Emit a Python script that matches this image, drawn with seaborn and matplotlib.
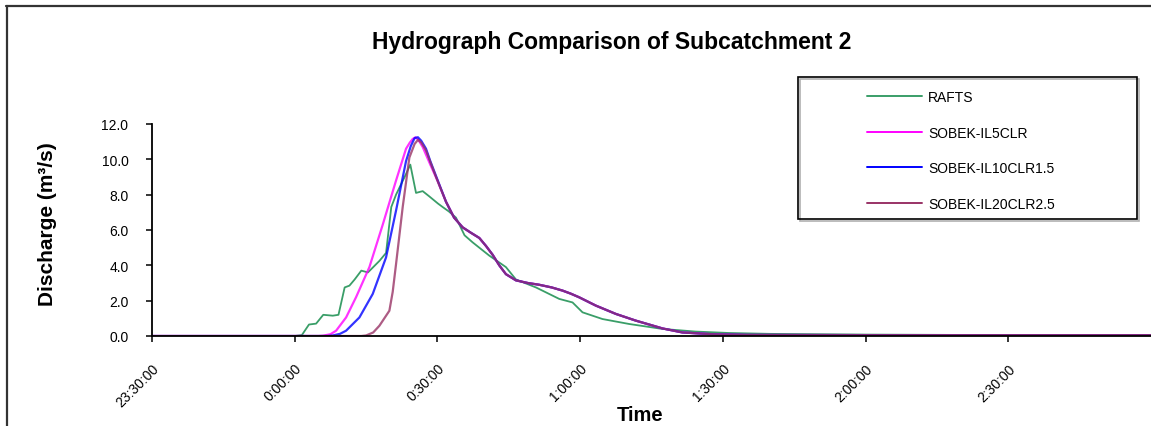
import numpy as np
import pandas as pd
import matplotlib
matplotlib.use("Agg")
import matplotlib.pyplot as plt
from matplotlib.lines import Line2D
from matplotlib.patches import Rectangle
import seaborn as sns

# ---------------- data (minutes relative to 0:00:00, discharge m3/s) ----------------
series_names = ["RAFTS", "SOBEK-IL5CLR", "SOBEK-IL10CLR1.5", "SOBEK-IL20CLR2.5"]

rafts_t = [-30, 0, 1.5, 3, 4.5, 6, 8, 9.2, 10.5, 11.5, 12.6, 14, 15.4, 17.8, 19.2, 20.3,
           21.3, 23.1, 24.3, 25.5, 26.9, 28.3, 30.1, 31.1, 32.4, 33.9, 35.7, 37.4, 40.9,
           44.4, 46.5, 50.7, 55.6, 58.4, 60.5, 64.7, 70.3, 77.3, 84.3, 91.3, 100, 120, 150, 180]
rafts_q = [0, 0, 0.05, 0.65, 0.7, 1.2, 1.15, 1.2, 2.75, 2.85, 3.2, 3.7, 3.6, 4.25, 4.7, 7.3,
           8.0, 9.0, 9.7, 8.1, 8.2, 7.9, 7.5, 7.3, 7.05, 6.7, 5.7, 5.3, 4.55,
           3.9, 3.2, 2.75, 2.1, 1.9, 1.34, 0.96, 0.68, 0.4, 0.25, 0.17, 0.12, 0.08, 0.05, 0.05]

il5_t = [-30, 5, 6, 7.5, 8.7, 10.8, 12.9, 15.7, 18.5, 21.3, 23.4, 24.2, 24.8, 25.4, 26.0,
         26.9, 28.5, 30, 31.8, 33.5, 35.3, 37, 38.8, 40.2, 41.6, 43, 44.4, 46.5, 49, 51.4,
         54, 56.3, 58, 59.8, 63.3, 67.5, 71.7, 77.3, 81.5, 87.8, 95, 120, 180]
il5_q = [0, 0, 0.02, 0.1, 0.3, 1.05, 2.2, 3.9, 6.3, 8.8, 10.6, 10.95, 11.15, 11.25, 11.1,
         10.7, 9.7, 8.8, 7.6, 6.7, 6.15, 5.85, 5.55, 5.1, 4.6, 4.0, 3.5, 3.15, 3.0, 2.9,
         2.75, 2.57, 2.4, 2.19, 1.72, 1.25, 0.87, 0.43, 0.2, 0.1, 0.06, 0.05, 0.05]

il10_t = [-30, 7, 8, 9.5, 10.8, 13.6, 16.4, 19.2, 21.3, 23.4, 24.4, 25.2, 25.9, 26.6,
          27.6, 28.5, 30, 31.8, 33.5, 35.3, 37, 38.8, 40.2, 41.6, 43, 44.4, 46.5, 49, 51.4,
          54, 56.3, 58, 59.8, 63.3, 67.5, 71.7, 77.3, 81.5, 87.8, 95, 120, 180]
il10_q = [0, 0, 0.03, 0.12, 0.3, 1.05, 2.38, 4.45, 7.1, 9.9, 10.75, 11.2, 11.25, 11.05,
          10.6, 9.9, 8.85, 7.6, 6.7, 6.15, 5.85, 5.55, 5.1, 4.6, 4.0, 3.5, 3.15, 3.0, 2.9,
          2.75, 2.57, 2.4, 2.19, 1.72, 1.25, 0.87, 0.43, 0.2, 0.1, 0.06, 0.05, 0.05]

il20_t = [-30, 14, 15, 16.5, 17.8, 19.9, 20.6, 21.3, 22.7, 24.1, 25.2, 25.9, 26.6,
          27.6, 28.5, 30, 31.8, 33.5, 35.3, 37, 38.8, 40.2, 41.6, 43, 44.4, 46.5, 49, 51.4,
          54, 56.3, 58, 59.8, 63.3, 67.5, 71.7, 77.3, 81.5, 87.8, 95, 120, 180]
il20_q = [0, 0, 0.03, 0.2, 0.58, 1.43, 2.5, 4.07, 7.3, 10.1, 10.87, 11.1, 10.95,
          10.5, 9.85, 8.8, 7.6, 6.7, 6.15, 5.85, 5.55, 5.1, 4.6, 4.0, 3.5, 3.15, 3.0, 2.9,
          2.75, 2.57, 2.4, 2.19, 1.72, 1.25, 0.87, 0.43, 0.2, 0.1, 0.06, 0.05, 0.05]

tick_minutes = [-30, 0, 30, 60, 90, 120, 150]
tick_labels = ["23:30:00", "0:00:00", "0:30:00", "1:00:00", "1:30:00", "2:00:00", "2:30:00"]
y_ticks = [0, 2, 4, 6, 8, 10, 12]

colors = {"RAFTS": "#3a9e68", "SOBEK-IL5CLR": "#FF00FF",
          "SOBEK-IL10CLR1.5": "#0000FF", "SOBEK-IL20CLR2.5": "#993366"}

frames = []
for name, t, q in [("RAFTS", rafts_t, rafts_q), ("SOBEK-IL5CLR", il5_t, il5_q),
                   ("SOBEK-IL10CLR1.5", il10_t, il10_q), ("SOBEK-IL20CLR2.5", il20_t, il20_q)]:
    frames.append(pd.DataFrame({"t": t, "q": q, "series": name}))
df = pd.concat(frames, ignore_index=True)

# ---------------- plotting ----------------
sns.set_theme(style="white")
plt.rcParams["font.family"] = ["Liberation Sans", "DejaVu Sans"]
plt.rcParams["text.color"] = "black"
plt.rcParams["xtick.color"] = "black"
plt.rcParams["ytick.color"] = "black"

W, H = 1151, 427
fig = plt.figure(figsize=(W / 100, H / 100), dpi=100)
ax = fig.add_axes([152 / W, 1 - 337 / H, 1 - 152 / W, (337 - 125) / H])

for name in series_names:
    sub = df[df["series"] == name]
    sns.lineplot(data=sub, x="t", y="q", ax=ax, color=colors[name], label=name,
                 estimator=None, sort=False,
                 linewidth=1.3 if name == "RAFTS" else 1.6,
                 alpha=1.0 if name == "RAFTS" else 0.8)

ax.set_xlim(-30, 180)
ax.set_ylim(0, 12)
ax.set_xticks(tick_minutes)
ax.set_xticklabels(tick_labels, rotation=45, ha="right", va="top",
                   rotation_mode="anchor", fontsize=10)
ax.set_yticks(y_ticks)
ax.set_yticklabels([f"{v:.1f}" for v in y_ticks], fontsize=10)
ax.tick_params(axis="x", direction="out", length=4, width=1.1, color="black",
               pad=14, bottom=True)
ax.tick_params(axis="y", direction="out", length=4, width=1.1, color="black",
               pad=13, left=True)
for s in ["top", "right"]:
    ax.spines[s].set_visible(False)
for s in ["left", "bottom"]:
    ax.spines[s].set_color("black")
    ax.spines[s].set_linewidth(1.3)
ax.set_xlabel("")
ax.set_ylabel("")
ax.grid(False)

# legend
handles, labels = ax.get_legend_handles_labels()
leg = ax.legend(handles, labels, loc="upper left", frameon=False,
                bbox_to_anchor=(867 / W, 1 - 91 / H), bbox_transform=fig.transFigure,
                borderpad=0, borderaxespad=0, handlelength=3.95, handletextpad=0.45,
                labelspacing=1.56, fontsize=10)
for lh in leg.get_lines():
    lh.set_alpha(1.0)
    lh.set_linewidth(1.4)

# legend box (with light shadow)
fig.add_artist(Rectangle((800 / W, 1 - 222 / H), 339 / W, 142 / H, transform=fig.transFigure,
                         fill=False, edgecolor="#b0b0b0", linewidth=1.2))
fig.add_artist(Rectangle((798 / W, 1 - 220 / H), 339 / W, 142 / H, transform=fig.transFigure,
                         fill=False, edgecolor="black", linewidth=1.2))

# outer chart border
fig.add_artist(Line2D([6.5 / W, 6.5 / W], [0, 1 - 7 / H], transform=fig.transFigure,
                      color="#333333", linewidth=1.6))
fig.add_artist(Line2D([6 / W, 1], [1 - 7 / H, 1 - 7 / H], transform=fig.transFigure,
                      color="#333333", linewidth=1.6))

# titles
fig.text(612 / W, 1 - 42 / H, "Hydrograph Comparison of Subcatchment 2", ha="center",
         va="center", fontsize=16.5, fontweight="bold")
fig.text(48 / W, 1 - 224 / H, "Discharge (m³/s)", ha="center", va="center",
         rotation=90, fontsize=15, fontweight="bold")
fig.text(640 / W, 1 - 406 / H, "Time", ha="center", va="top", fontsize=14.5,
         fontweight="bold")

fig.savefig("out.png", dpi=100)
